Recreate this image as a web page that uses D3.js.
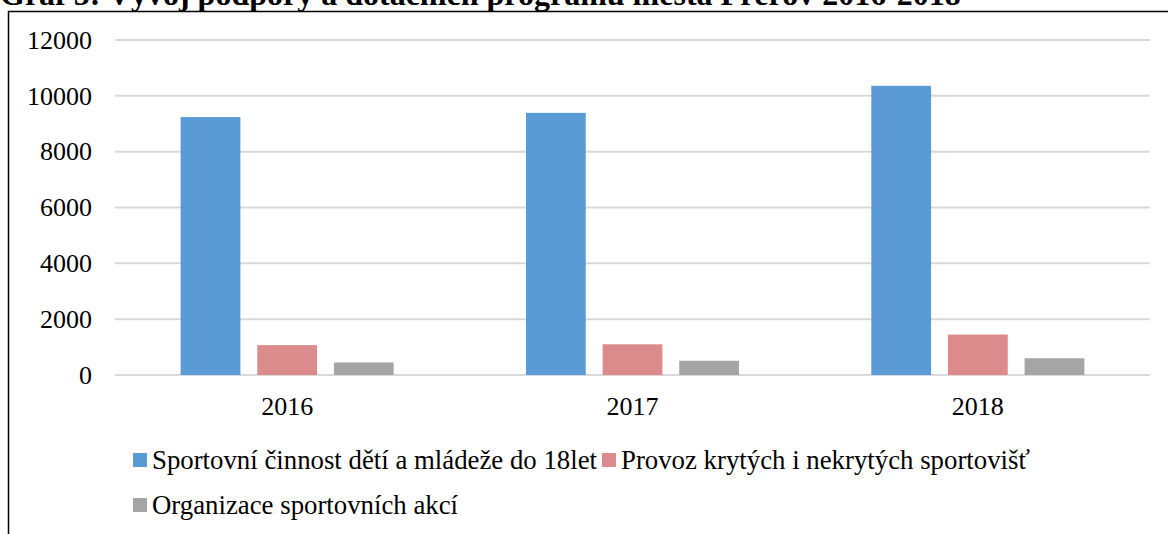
<!DOCTYPE html>
<html>
<head>
<meta charset="utf-8">
<script src="https://cdnjs.cloudflare.com/ajax/libs/d3/7.8.5/d3.min.js"></script>
<style>
  body { margin: 0; background: #fff; }
  svg { display: block; font-family: "Liberation Serif", "Times New Roman", serif; }
</style>
</head>
<body>
<script>
var years = ["2016", "2017", "2018"];
var seriesNames = ["Sportovní činnost dětí a mládeže do 18let", "Provoz krytých i nekrytých sportovišť", "Organizace sportovních akcí"];
var sportovni = [9240, 9390, 10360];
var provoz = [1070, 1100, 1450];
var organizace = [450, 510, 600];
var yTicks = [0, 2000, 4000, 6000, 8000, 10000, 12000];
var colors = ["#5b9bd5", "#db8b8b", "#a5a5a5"];

var width = 1168, height = 534;
var margin = {top: 40, left: 115, right: 18, bottom: 159};
var fontSize = 26;

var svg = d3.select("body").append("svg")
    .attr("width", width)
    .attr("height", height);

// title, cut off at the top like in the picture
svg.append("text")
    .attr("x", 0)
    .attr("y", 5)
    .attr("font-weight", "bold")
    .attr("font-size", 32)
    .text("Graf 5: Vývoj podpory a dotačních programů města Přerov 2016-2018");

// frame
svg.append("path")
    .attr("d", "M8.5," + height + "V11.5H" + width)
    .attr("fill", "none")
    .attr("stroke", "#000")
    .attr("stroke-width", 1.5);

var series = [sportovni, provoz, organizace];

var x0 = d3.scaleBand()
    .domain(years)
    .range([margin.left, width - margin.right])
    .paddingInner(0.383)
    .paddingOuter(0.19);

var x1 = d3.scaleBand()
    .domain(d3.range(series.length))
    .range([0, x0.bandwidth()])
    .paddingInner(0.22);

var y = d3.scaleLinear()
    .domain([0, 12000])
    .range([height - margin.bottom, margin.top]);

// gridlines
svg.append("g")
  .selectAll("line")
  .data(yTicks)
  .enter().append("line")
    .attr("x1", margin.left)
    .attr("x2", width - margin.right)
    .attr("y1", function(d) { return y(d); })
    .attr("y2", function(d) { return y(d); })
    .attr("stroke", "#d9d9d9")
    .attr("stroke-width", 2);

// y axis labels
var yAxis = svg.append("g")
    .attr("transform", "translate(" + (margin.left - 23) + ",0)")
    .call(d3.axisLeft(y).tickValues(yTicks).tickSize(0).tickPadding(0).tickFormat(d3.format("d")));
yAxis.select(".domain").remove();
yAxis.selectAll("text")
    .attr("font-family", "Liberation Serif, serif")
    .attr("font-size", fontSize)
    .attr("fill", "#000");

// bars
var groups = svg.append("g")
  .selectAll("g")
  .data(years)
  .enter().append("g")
    .attr("transform", function(d) { return "translate(" + x0(d) + ",0)"; });

groups.selectAll("rect")
    .data(function(d, i) { return series.map(function(s, k) { return {k: k, v: s[i]}; }); })
    .enter().append("rect")
    .attr("x", function(d) { return x1(d.k); })
    .attr("width", x1.bandwidth())
    .attr("y", function(d) { return y(d.v); })
    .attr("height", function(d) { return y(0) - y(d.v); })
    .attr("fill", function(d) { return colors[d.k]; });

// x axis labels
var xAxis = svg.append("g")
    .attr("transform", "translate(0," + (y(0) + 22) + ")")
    .call(d3.axisBottom(x0).tickSize(0).tickPadding(0));
xAxis.select(".domain").remove();
xAxis.selectAll("text")
    .attr("font-family", "Liberation Serif, serif")
    .attr("font-size", fontSize)
    .attr("fill", "#000");

// legend
var legendPos = [{x: 133, y: 453}, {x: 602, y: 453}, {x: 133, y: 498}];
var legend = svg.append("g")
  .selectAll("g")
  .data(seriesNames)
  .enter().append("g")
    .attr("transform", function(d, i) { return "translate(" + legendPos[i].x + "," + legendPos[i].y + ")"; });

legend.append("rect")
    .attr("width", 14)
    .attr("height", 14)
    .attr("fill", function(d, i) { return colors[i]; });

legend.append("text")
    .attr("x", 19)
    .attr("y", 16)
    .attr("font-size", 26.8)
    .text(function(d) { return d; });
</script>
</body>
</html>
